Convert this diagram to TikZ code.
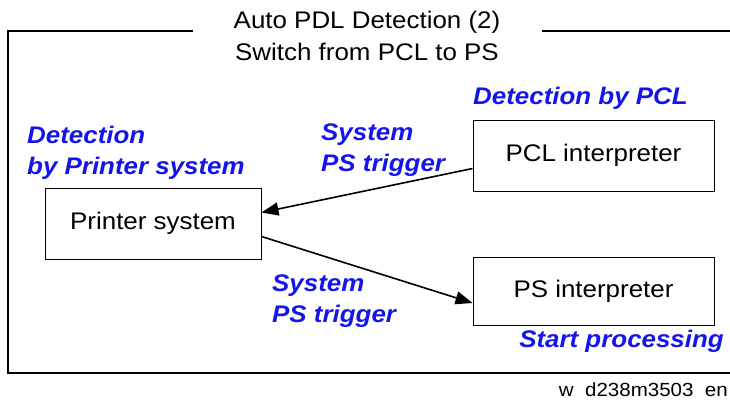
\documentclass[tikz,border=0pt]{standalone}
\usepackage{fontspec}
\setmainfont[FakeStretch=1.08]{Liberation Sans}
\usepackage{tikz}
\usetikzlibrary{arrows.meta, positioning}
\definecolor{noteblue}{RGB}{20,20,235}
\tikzset{
	box/.style = {draw, rectangle, line width=1pt, minimum width=241pt, minimum height=70pt, font=\fontsize{24}{28}\selectfont},
	note/.style = {text=noteblue, font=\fontsize{24}{31}\selectfont\bfseries\itshape, align=left, inner sep=0pt},
	flow/.style = {line width=1.6pt, -{Triangle[length=17pt, width=13pt]}}
}
\begin{document}
\begin{tikzpicture}[x=1pt, y=-1pt]
	\useasboundingbox (0,0) rectangle (730,400);
	\node [align=center, font=\fontsize{24}{32}\selectfont] (Title) at (367,36) {Auto PDL Detection (2)\\Switch from PCL to PS};
	\draw [line width=1.1pt] (193,31) -- (8,31) -- (8,373) -- (730,373);
	\draw [line width=1.1pt] (542,31) -- (730,31);
	\node [box, minimum width=216pt, minimum height=71pt] (Printer) at (153,223.5) {Printer system};
	\node [box, minimum height=71pt] (PCL) at (593.5,155.5) {PCL interpreter};
	\node [box, minimum height=68pt] (PS) at (593.5,291) {PS interpreter};
	\node [note, anchor=south west] (ByPCL) at (473,110) {Detection by PCL};
	\node [note, anchor=south west] (ByPrinter) at (27,180) {Detection\\by Printer system};
	\node [note, anchor=south west] (TrigA) at (321,177) {System\\PS trigger};
	\node [note, anchor=south west] (TrigB) at (272,328) {System\\PS trigger};
	\node [note, anchor=south east] (Start) at (724,353) {Start processing};
	\node [anchor=south east, inner sep=0pt, font=\fontsize{19}{22}\selectfont] (Code) at (728,397) {w\ \ d238m3503\ \ en};
	\draw [flow] ([yshift=-13pt]PCL.west) -- ([yshift=11pt]Printer.east);
	\draw [flow] ([yshift=-13pt]Printer.east) -- ([yshift=-12pt]PS.west);
\end{tikzpicture}
\end{document}
